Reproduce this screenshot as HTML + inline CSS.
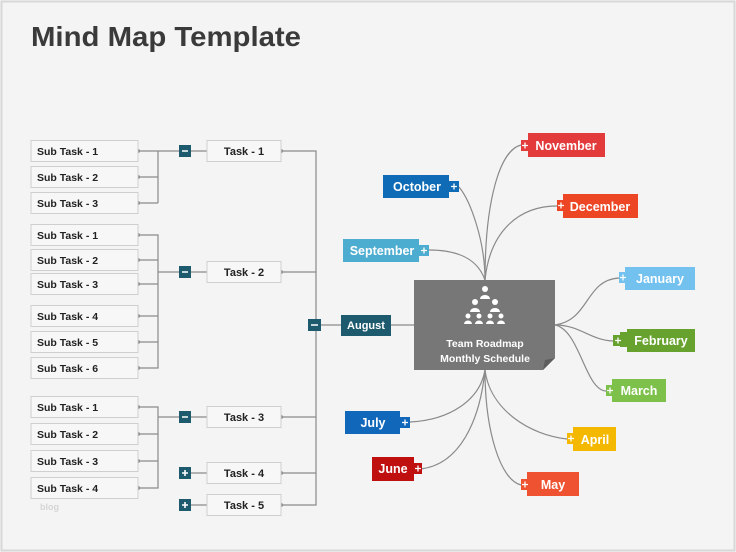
<!DOCTYPE html>
<html><head><meta charset="utf-8"><style>
html,body{margin:0;padding:0;background:#f4f4f4;}
svg{display:block;}
text{font-family:"Liberation Sans",sans-serif;font-weight:bold;}
</style></head><body>
<svg width="736" height="552" viewBox="0 0 736 552" xmlns="http://www.w3.org/2000/svg">
<rect x="0" y="0" width="736" height="552" fill="#f4f4f4"/>
<rect x="1.5" y="1.5" width="733" height="549" fill="none" stroke="#d8d8d8" stroke-width="2"/>
<text x="31" y="46" font-size="28" fill="#3a3a3a" textLength="270" lengthAdjust="spacingAndGlyphs">Mind Map Template</text>

<g stroke="#8a8a8a" stroke-width="1.2" fill="none">
<!-- group1 -->
<path d="M138 151H179 M158 151V203 M138 177H158 M138 203H158 M191 151H207"/>
<!-- group2 -->
<path d="M138 235H158V368H138 M138 260H158 M138 284H158 M138 316H158 M138 342H158 M158 272H179 M191 272H207"/>
<!-- group3 -->
<path d="M138 407H158V488H138 M138 434H158 M138 461H158 M158 417H179 M191 417H207 M191 473H207 M191 505H207"/>
<!-- right trunk -->
<path d="M281 151H316V505H281 M281 272H316 M281 417H316 M281 473H316 M320 325H341 M391 325H414"/>
<!-- curves top -->
<path d="M485 280C485 240 470 200 459 187"/>
<path d="M485 280C485 200 500 150 521 145"/>
<path d="M485 280C490 230 520 206 557 206"/>
<path d="M485 280C478 260 460 250 429 250"/>
<!-- right -->
<path d="M555 325C590 320 585 280 619 278"/>
<path d="M555 325C580 325 590 340 613 341"/>
<path d="M555 325C580 330 585 390 606 391"/>
<!-- bottom -->
<path d="M485 370C480 400 450 420 410 422"/>
<path d="M485 370C480 420 460 465 420 469"/>
<path d="M485 370C490 410 530 435 567 439"/>
<path d="M485 370C485 430 500 480 521 485"/>
</g>

<g fill="#8a8a8a">
<circle cx="138" cy="151" r="2"/><circle cx="138" cy="177" r="2"/><circle cx="138" cy="203" r="2"/>
<circle cx="138" cy="235" r="2"/><circle cx="138" cy="260" r="2"/><circle cx="138" cy="284" r="2"/>
<circle cx="138" cy="316" r="2"/><circle cx="138" cy="342" r="2"/><circle cx="138" cy="368" r="2"/>
<circle cx="138" cy="407" r="2"/><circle cx="138" cy="434" r="2"/><circle cx="138" cy="461" r="2"/><circle cx="138" cy="488" r="2"/>
<circle cx="281" cy="151" r="2"/><circle cx="281" cy="272" r="2"/><circle cx="281" cy="417" r="2"/><circle cx="281" cy="473" r="2"/><circle cx="281" cy="505" r="2"/>
</g>

<!-- subtask boxes -->
<g fill="#f7f7f7" stroke="#cfcfcf" stroke-width="1">
<rect x="31" y="140.5" width="107" height="21"/><rect x="31" y="166.5" width="107" height="21"/><rect x="31" y="192.5" width="107" height="21"/>
<rect x="31" y="224.5" width="107" height="21"/><rect x="31" y="249.5" width="107" height="21"/><rect x="31" y="273.5" width="107" height="21"/>
<rect x="31" y="305.5" width="107" height="21"/><rect x="31" y="331.5" width="107" height="21"/><rect x="31" y="357.5" width="107" height="21"/>
<rect x="31" y="396.5" width="107" height="21"/><rect x="31" y="423.5" width="107" height="21"/><rect x="31" y="450.5" width="107" height="21"/><rect x="31" y="477.5" width="107" height="21"/>
<rect x="207" y="140.5" width="74" height="21"/><rect x="207" y="261.5" width="74" height="21"/><rect x="207" y="406.5" width="74" height="21"/><rect x="207" y="462.5" width="74" height="21"/><rect x="207" y="494.5" width="74" height="21"/>
</g>
<g font-size="10.5" fill="#222">
<text x="37" y="155">Sub Task - 1</text><text x="37" y="181">Sub Task - 2</text><text x="37" y="207">Sub Task - 3</text>
<text x="37" y="239">Sub Task - 1</text><text x="37" y="264">Sub Task - 2</text><text x="37" y="288">Sub Task - 3</text>
<text x="37" y="320">Sub Task - 4</text><text x="37" y="346">Sub Task - 5</text><text x="37" y="372">Sub Task - 6</text>
<text x="37" y="411">Sub Task - 1</text><text x="37" y="438">Sub Task - 2</text><text x="37" y="465">Sub Task - 3</text><text x="37" y="492">Sub Task - 4</text>
</g>
<g font-size="11" fill="#222" text-anchor="middle">
<text x="244" y="155">Task - 1</text><text x="244" y="276">Task - 2</text><text x="244" y="421">Task - 3</text><text x="244" y="477">Task - 4</text><text x="244" y="509">Task - 5</text>
</g>
<text x="40" y="510" font-size="9" fill="#d5d5d5" font-weight="normal">blog</text>

<!-- toggles -->
<g fill="#1e5a6e">
<rect x="179" y="145" width="12" height="12"/><rect x="179" y="266" width="12" height="12"/><rect x="179" y="411" width="12" height="12"/>
<rect x="179" y="467" width="12" height="12"/><rect x="179" y="499" width="12" height="12"/><rect x="308" y="319" width="13" height="12"/>
</g>
<g stroke="#fff" stroke-width="1.6">
<path d="M182 151H188 M182 272H188 M182 417H188 M311 325H318 M182 473H188 M185 470V476 M182 505H188 M185 502V508"/>
</g>

<!-- August -->
<rect x="341" y="315" width="50" height="21" fill="#1e5a6e"/>
<text x="366" y="329" font-size="11" fill="#fff" text-anchor="middle">August</text>

<!-- center -->
<path d="M414 280H555V358L543 370H414Z" fill="#777"/>
<path d="M543 370L545 360L555 358Z" fill="#5e5e5e"/>
<g fill="#fff">
<circle cx="485" cy="289" r="3"/><path d="M480 299a5 4 0 0 1 10 0Z"/>
<circle cx="475" cy="302" r="3"/><path d="M470 312a5 4 0 0 1 10 0Z"/>
<circle cx="495" cy="302" r="3"/><path d="M490 312a5 4 0 0 1 10 0Z"/>
<circle cx="468" cy="316" r="2.5"/><path d="M464 324a4 3.5 0 0 1 8 0Z"/>
<circle cx="479" cy="316" r="2.5"/><path d="M475 324a4 3.5 0 0 1 8 0Z"/>
<circle cx="490" cy="316" r="2.5"/><path d="M486 324a4 3.5 0 0 1 8 0Z"/>
<circle cx="501" cy="316" r="2.5"/><path d="M497 324a4 3.5 0 0 1 8 0Z"/>
</g>
<text x="485" y="347" font-size="10.5" fill="#fff" text-anchor="middle">Team Roadmap</text>
<text x="485" y="362" font-size="10.5" fill="#fff" text-anchor="middle">Monthly Schedule</text>

<!-- months: plus on right -->
<g font-size="12.5" fill="#fff" text-anchor="middle">
<rect x="383" y="175" width="66" height="23" fill="#0f6bb5"/><rect x="449" y="181" width="10" height="11" fill="#0f6bb5"/>
<text x="417" y="191">October</text>
<rect x="343" y="239" width="76" height="23" fill="#4dadd0"/><rect x="419" y="245" width="10" height="11" fill="#4dadd0"/>
<text x="382" y="255">September</text>
<rect x="345" y="411" width="55" height="23" fill="#1168bb"/><rect x="400" y="417" width="10" height="11" fill="#1168bb"/>
<text x="373" y="427">July</text>
<rect x="372" y="457" width="42" height="24" fill="#c00f0f"/><rect x="414" y="463" width="8" height="11" fill="#c00f0f"/>
<text x="393" y="473">June</text>
<!-- plus on left -->
<rect x="521" y="140" width="9" height="11" fill="#e33b3b"/><rect x="528" y="133" width="77" height="24" fill="#e33b3b"/>
<text x="566" y="150">November</text>
<rect x="557" y="200" width="9" height="11" fill="#ec4624"/><rect x="563" y="194" width="75" height="24" fill="#ec4624"/>
<text x="600" y="211">December</text>
<rect x="619" y="272" width="9" height="11" fill="#72c1ee"/><rect x="625" y="267" width="70" height="23" fill="#72c1ee"/>
<text x="660" y="283">January</text>
<rect x="613" y="335" width="9" height="11" fill="#67a22e"/><rect x="627" y="329" width="68" height="23" fill="#67a22e"/><rect x="620" y="332" width="8" height="15" fill="#67a22e"/>
<text x="661" y="345">February</text>
<rect x="606" y="385" width="9" height="11" fill="#7ec14a"/><rect x="612" y="379" width="54" height="23" fill="#7ec14a"/>
<text x="639" y="395">March</text>
<rect x="567" y="433" width="9" height="11" fill="#f4b800"/><rect x="573" y="427" width="43" height="24" fill="#f4b800"/>
<text x="595" y="444">April</text>
<rect x="521" y="479" width="9" height="11" fill="#ee5230"/><rect x="527" y="472" width="52" height="24" fill="#ee5230"/>
<text x="553" y="489">May</text>
</g>
<g stroke="#fff" stroke-width="1.3">
<path d="M451 186.5H457 M454 183.5V189.5 M421 250.5H427 M424 247.5V253.5 M402 422.5H408 M405 419.5V425.5 M415 468.5H421 M418 465.5V471.5"/>
<path d="M522 145.5H528 M525 142.5V148.5 M558 205.5H564 M561 202.5V208.5 M620 277.5H626 M623 274.5V280.5 M615 340.5H621 M618 337.5V343.5 M607 390.5H613 M610 387.5V393.5 M568 438.5H574 M571 435.5V441.5 M522 484.5H528 M525 481.5V487.5"/>
</g>
</svg>
</body></html>
